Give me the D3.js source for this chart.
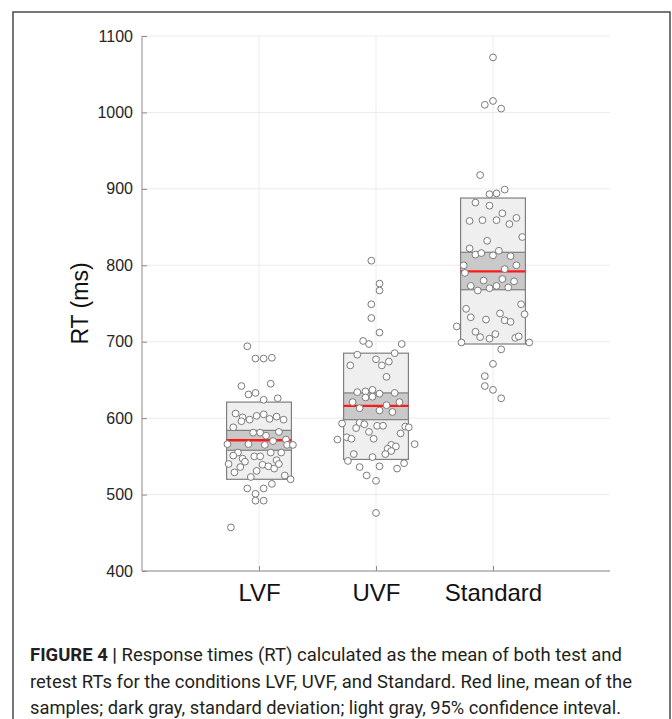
<!DOCTYPE html>
<html>
<head>
<meta charset="utf-8">
<script src="https://cdn.jsdelivr.net/npm/d3@7"></script>
<style>
  body { margin: 0; background: #fff; }
  svg { display: block; font-family: "Liberation Sans", Arial, sans-serif; }
</style>
</head>
<body>
<div id="ChartArea"></div>
<script>
// ------------------------------------------------------------------
//  data
// ------------------------------------------------------------------
var categories = ["LVF", "UVF", "Standard"];
var yTicks = [400, 500, 600, 700, 800, 900, 1000, 1100];

// mean, sd band, 95% band (ms)
var means   = [571, 616, 792];
var sdLow   = [558, 598, 768];
var sdHigh  = [584, 633, 817];
var ciLow   = [520, 546, 697];
var ciHigh  = [621, 685, 888];

// samples (ms) and horizontal jitter (fraction of category step)
var lvfValues = [694,678,678,679,642,645,631,633,624,626,606,601,596,598,603,605,599,602,598,588,
                 581,581,577,582,570,572,566,566,565,565,565,555,551,555,555,550,550,547,543,545,
                 540,536,539,537,534,540,529,531,523,525,520,514,508,508,501,492,492,457];
var lvfJitter = [-0.10,-0.03,0.04,0.11,-0.15,0.10,-0.09,-0.03,0.04,0.16,-0.20,-0.14,-0.15,-0.08,-0.02,0.04,0.09,0.15,0.21,-0.22,
                 -0.05,0.01,0.06,0.17,0.12,0.23,-0.27,-0.09,0.05,0.24,0.29,-0.18,-0.22,0.10,0.19,-0.04,0.01,-0.14,-0.12,0.15,
                 -0.26,-0.16,0.03,0.08,0.13,0.17,-0.21,-0.02,-0.07,0.22,0.27,0.11,-0.10,0.04,-0.03,-0.03,0.04,-0.24];

var uvfValues = [806,776,767,749,731,712,701,697,697,683,685,677,674,669,669,654,634,635,637,632,
                 633,627,628,621,621,617,613,610,608,593,594,592,590,590,589,588,587,582,580,575,
                 572,573,573,566,565,563,560,557,553,553,549,544,541,534,536,537,525,518,476];
var uvfJitter = [-0.04,0.03,0.03,-0.04,-0.04,0.03,-0.11,-0.06,0.22,-0.16,0.16,0.00,0.11,-0.22,0.05,0.09,-0.16,-0.09,-0.03,0.03,
                 0.16,-0.09,-0.03,-0.20,0.20,0.09,-0.14,0.03,0.14,-0.29,-0.14,-0.10,0.01,0.06,0.25,0.28,-0.17,-0.06,0.21,-0.25,
                 -0.33,-0.21,-0.02,0.33,0.13,0.17,0.10,0.13,0.08,-0.19,-0.03,-0.24,0.24,0.18,-0.14,0.03,-0.08,0.00,0.00];

var stdValues = [1072,1010,1015,1005,918,893,894,899,882,878,868,862,858,859,859,854,837,832,822,819,
                 814,816,813,812,800,800,795,790,780,782,779,773,767,770,773,771,749,743,737,736,
                 732,729,728,726,720,713,710,706,704,705,707,699,699,690,671,655,642,637,626];
var stdJitter = [0.00,-0.07,0.00,0.07,-0.11,-0.03,0.03,0.10,-0.15,-0.03,0.08,0.20,-0.20,-0.09,0.03,0.14,0.25,-0.05,-0.20,0.05,
                 -0.15,-0.10,0.00,0.15,-0.25,0.20,0.10,-0.24,-0.08,0.08,0.18,-0.19,-0.13,-0.03,0.03,0.13,0.24,-0.23,0.06,0.27,
                 -0.19,-0.06,0.10,0.15,-0.31,-0.15,0.02,-0.11,-0.03,0.19,0.22,-0.27,0.31,0.07,0.00,-0.07,-0.07,0.00,0.07];

var captionLines = [
  "Response times (RT) calculated as the mean of both test and",
  "retest RTs for the conditions LVF, UVF, and Standard. Red line, mean of the",
  "samples; dark gray, standard deviation; light gray, 95% confidence inteval."
];

// ------------------------------------------------------------------
function draw_chart ()
{
  var W = 672, H = 719;
  var left = 142, right = 610, top = 36, bottom = 571;

  var svg = d3.select("#ChartArea").append("svg")
      .attr("width", W)
      .attr("height", H);

  // figure frame
  svg.append("rect")
      .attr("x", 13).attr("y", 12)
      .attr("width", 657).attr("height", 720)
      .attr("fill", "none")
      .attr("stroke", "#4a4a4a")
      .attr("stroke-width", 1.5);

  var x = d3.scalePoint()
      .domain(categories)
      .range([left, right])
      .padding(1);

  var y = d3.scaleLinear()
      .domain([400, 1100])
      .range([bottom, top]);

  var step = x.step();
  var half = step * 0.277;

  // grid
  svg.append("g").selectAll("line")
    .data(yTicks)
    .enter().append("line")
    .attr("x1", left).attr("x2", right)
    .attr("y1", function(d) { return y(d); })
    .attr("y2", function(d) { return y(d); })
    .attr("stroke", "#ebebeb")
    .attr("stroke-width", 1);

  svg.append("g").selectAll("line")
    .data(categories)
    .enter().append("line")
    .attr("x1", function(d) { return x(d); })
    .attr("x2", function(d) { return x(d); })
    .attr("y1", top).attr("y2", bottom)
    .attr("stroke", "#ebebeb")
    .attr("stroke-width", 1);

  // boxes: light (95%), dark (sd), red mean
  var g = svg.append("g");
  categories.forEach(function(c, i) {
    var cx = x(c);
    g.append("rect")
      .attr("x", cx - half).attr("y", y(ciHigh[i]))
      .attr("width", half * 2).attr("height", y(ciLow[i]) - y(ciHigh[i]))
      .attr("fill", "#efefef").attr("stroke", "#7f7f7f").attr("stroke-width", 1.2);
    g.append("rect")
      .attr("x", cx - half).attr("y", y(sdHigh[i]))
      .attr("width", half * 2).attr("height", y(sdLow[i]) - y(sdHigh[i]))
      .attr("fill", "#c9c9c9").attr("stroke", "#7f7f7f").attr("stroke-width", 1.2);
    g.append("line")
      .attr("x1", cx - half).attr("x2", cx + half)
      .attr("y1", y(means[i])).attr("y2", y(means[i]))
      .attr("stroke", "#ff1a1a").attr("stroke-width", 2.4);
  });

  // sample points
  var groups = [
    { cat: "LVF", v: lvfValues, j: lvfJitter },
    { cat: "UVF", v: uvfValues, j: uvfJitter },
    { cat: "Standard", v: stdValues, j: stdJitter }
  ];
  groups.forEach(function(grp) {
    g.append("g").selectAll("circle")
      .data(grp.v)
      .enter().append("circle")
      .attr("cx", function(d, k) { return x(grp.cat) + grp.j[k] * step; })
      .attr("cy", function(d) { return y(d); })
      .attr("r", 3.4)
      .attr("fill", "#fff")
      .attr("stroke", "#7a7a7a")
      .attr("stroke-width", 1);
  });

  // axes
  var yAxis = svg.append("g")
      .attr("transform", "translate(" + left + ",0)")
      .call(d3.axisRight(y).tickValues(yTicks).tickSize(5).tickFormat(d3.format("d")));
  yAxis.select(".domain").attr("stroke", "#8c8c8c").attr("d", "M0," + top + "V" + bottom);
  yAxis.selectAll(".tick line").attr("stroke", "#8c8c8c");
  yAxis.selectAll(".tick text")
      .attr("x", -9).attr("text-anchor", "end")
      .attr("font-size", 16).attr("fill", "#262626")
      .attr("font-family", "Liberation Sans, Arial, sans-serif");

  var xAxis = svg.append("g")
      .attr("transform", "translate(0," + bottom + ")")
      .call(d3.axisTop(x).tickSize(5));
  xAxis.select(".domain").attr("stroke", "#8c8c8c").attr("d", "M" + left + ",0H" + right);
  xAxis.selectAll(".tick line").attr("stroke", "#8c8c8c");
  xAxis.selectAll(".tick text")
      .attr("y", 30).attr("dy", 0)
      .attr("font-size", 24).attr("fill", "#111")
      .attr("font-family", "Liberation Sans, Arial, sans-serif");

  // y label
  svg.append("text")
      .attr("transform", "translate(88," + ((top + bottom) / 2) + ") rotate(-90)")
      .attr("text-anchor", "middle")
      .attr("font-size", 23)
      .attr("fill", "#111")
      .text("RT (ms)");

  // caption
  var cap = svg.append("g")
      .attr("font-family", "'Liberation Sans Narrow', 'Roboto', sans-serif")
      .attr("font-size", 18.5)
      .attr("fill", "#231f20");
  var lineEnds = [622, 632, 621];
  var baselines = [661, 688, 714];
  captionLines.forEach(function(t, i) {
    var tx = cap.append("text")
        .attr("x", 30).attr("y", baselines[i])
        .attr("textLength", lineEnds[i] - 30)
        .attr("lengthAdjust", "spacingAndGlyphs");
    if (i === 0) {
      tx.append("tspan").attr("font-weight", "bold").text("FIGURE 4 | ");
      tx.append("tspan").text(t);
    } else {
      tx.text(t);
    }
  });
}

draw_chart();
</script>
</body>
</html>
